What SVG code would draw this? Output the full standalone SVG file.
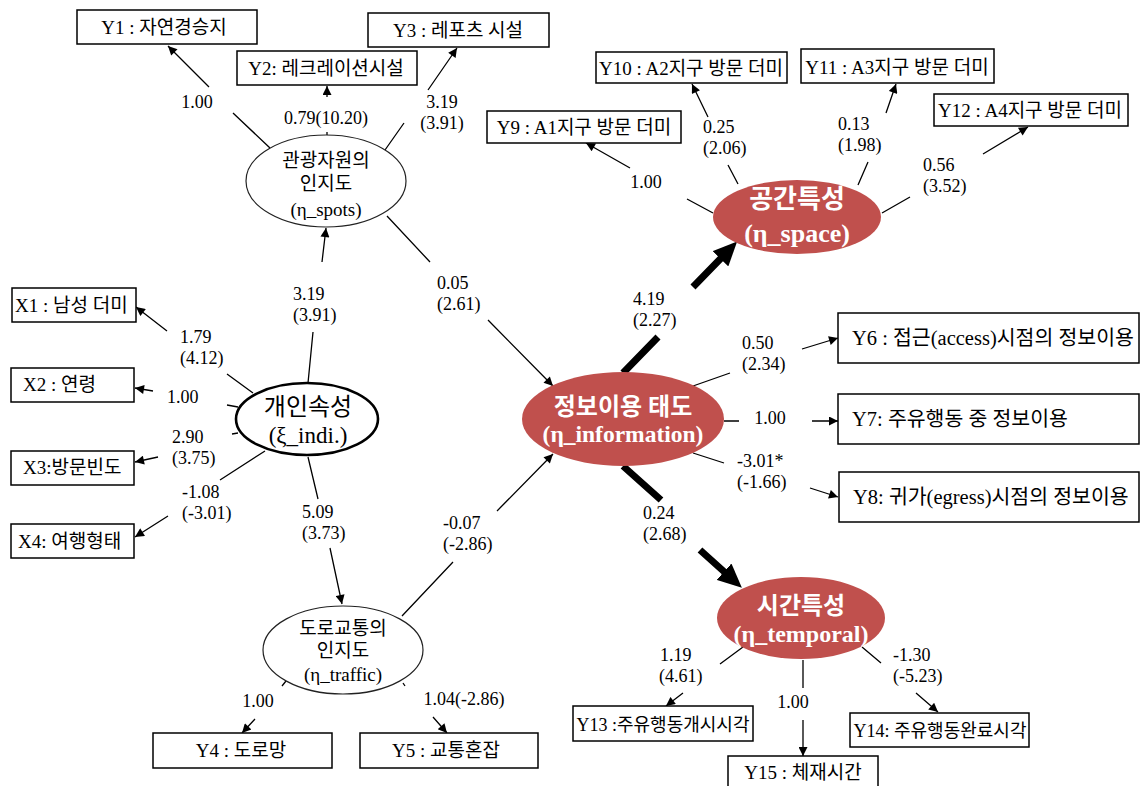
<svg xmlns="http://www.w3.org/2000/svg" width="1141" height="786" viewBox="0 0 1141 786">
<style>
.bx{fill:#fff;stroke:#000;stroke-width:1.5}
.bt{font-family:"Liberation Serif","Noto Sans CJK KR",serif;font-size:19px;fill:#000}
.bs{font-size:18px}
.bt2{font-family:"Liberation Serif","Noto Sans CJK KR",serif;font-size:20.5px;fill:#000}
.lb{font-family:"Liberation Serif","Noto Sans CJK KR",serif;font-size:18px;fill:#000}
.m{text-anchor:middle}
.el{fill:#fff;stroke:#222;stroke-width:1.2}
.elx{fill:#fff;stroke:#000;stroke-width:2.6}
.er{fill:#C0504D;stroke:none}
.et{font-family:"Liberation Serif","Noto Sans CJK KR",serif;font-size:19px;fill:#000;text-anchor:middle}
.wt{font-family:"Liberation Serif","Noto Sans CJK KR",serif;font-weight:bold;fill:#fff;text-anchor:middle}
.c{fill:none;stroke:#000;stroke-width:1.3}
.ct{fill:none;stroke:#000;stroke-width:7}
</style>
<defs>
<marker id="a" viewBox="0 0 10 10" refX="10" refY="5" markerWidth="11" markerHeight="9" markerUnits="userSpaceOnUse" orient="auto"><path d="M0,0 L10,5 L0,10 z" fill="#000"/></marker>
<marker id="A" viewBox="0 0 24 22" refX="8" refY="11" markerWidth="24" markerHeight="22" markerUnits="userSpaceOnUse" orient="auto"><path d="M0,0 L24,11 L0,22 z" fill="#000"/></marker>
</defs>

<g id="connectors">
<path class="c" d="M270,148 L233,113 M209,87 L168,46" marker-end="url(#a)"/>
<path class="c" d="M327,136 L327,132 M327,97 L327,86" marker-end="url(#a)"/>
<path class="c" d="M385,150 L404,123 M428,90 L457,48" marker-end="url(#a)"/>
<path class="c" d="M308,383 L313,332 M322,262 L326,228" marker-end="url(#a)"/>
<path class="c" d="M387,216 L430,262 M488,320 L553,386" marker-end="url(#a)"/>
<path class="c" d="M308,457 L318,499 M330,548 L342,604" marker-end="url(#a)"/>
<path class="c" d="M402,616 L453,562 M497,511 L553,454" marker-end="url(#a)"/>
<path class="c" d="M253,393 L227,374 M167,331 L136,307" marker-end="url(#a)"/>
<path class="c" d="M238,407 L227,405 M153,391 L135,388" marker-end="url(#a)"/>
<path class="c" d="M238,433 L232,434 M158,457 L135,462" marker-end="url(#a)"/>
<path class="c" d="M265,451 L220,480 M168,516 L135,537" marker-end="url(#a)"/>
<path class="c" d="M286,681 L282,686 M255,719 L242,733" marker-end="url(#a)"/>
<path class="c" d="M403,683 L405,686 M433,717 L447,733" marker-end="url(#a)"/>
<path class="ct" d="M623,373 L658,337 M693,287 L726,253" marker-end="url(#A)"/>
<path class="ct" d="M623,466 L661,500 M700,550 L730,577" marker-end="url(#A)"/>
<path class="c" d="M693,386 L730,373 M802,349 L838,338" marker-end="url(#a)"/>
<path class="c" d="M724,421 L739,421 M812,421 L838,421" marker-end="url(#a)"/>
<path class="c" d="M693,453 L724,463 M810,488 L838,497" marker-end="url(#a)"/>
<path class="c" d="M713,213 L687,199 M630,168 L586,143" marker-end="url(#a)"/>
<path class="c" d="M738,184 L728,165 M708,117 L692,84" marker-end="url(#a)"/>
<path class="c" d="M858,185 L868,162 M886,113 L896,84" marker-end="url(#a)"/>
<path class="c" d="M882,213 L910,197 M983,154 L1028,127" marker-end="url(#a)"/>
<path class="c" d="M743,647 L720,664 M683,693 L666,706" marker-end="url(#a)"/>
<path class="c" d="M803,660 L803,688 M803,720 L803,756" marker-end="url(#a)"/>
<path class="c" d="M862,647 L881,663 M916,693 L938,712" marker-end="url(#a)"/>
</g>

<g id="edge-labels">
<text class="lb m" x="197" y="108">1.00</text>
<text class="lb m" x="326" y="124">0.79(10.20)</text>
<text class="lb m" x="442" y="108">3.19</text>
<text class="lb m" x="442" y="129">(3.91)</text>
<text class="lb" x="180" y="343">1.79</text>
<text class="lb" x="180" y="364">(4.12)</text>
<text class="lb" x="167" y="403">1.00</text>
<text class="lb" x="172" y="443">2.90</text>
<text class="lb" x="172" y="464">(3.75)</text>
<text class="lb" x="182" y="498">-1.08</text>
<text class="lb" x="182" y="519">(-3.01)</text>
<text class="lb" x="293" y="300">3.19</text>
<text class="lb" x="293" y="321">(3.91)</text>
<text class="lb" x="437" y="289">0.05</text>
<text class="lb" x="437" y="310">(2.61)</text>
<text class="lb" x="302" y="518">5.09</text>
<text class="lb" x="302" y="539">(3.73)</text>
<text class="lb" x="443" y="529">-0.07</text>
<text class="lb" x="443" y="550">(-2.86)</text>
<text class="lb m" x="258" y="707">1.00</text>
<text class="lb m" x="464" y="705">1.04(-2.86)</text>
<text class="lb" x="633" y="305">4.19</text>
<text class="lb" x="633" y="326">(2.27)</text>
<text class="lb" x="643" y="519">0.24</text>
<text class="lb" x="643" y="540">(2.68)</text>
<text class="lb" x="742" y="349">0.50</text>
<text class="lb" x="742" y="370">(2.34)</text>
<text class="lb m" x="770" y="424">1.00</text>
<text class="lb" x="737" y="467">-3.01*</text>
<text class="lb" x="737" y="488">(-1.66)</text>
<text class="lb m" x="646" y="188">1.00</text>
<text class="lb" x="703" y="133">0.25</text>
<text class="lb" x="703" y="154">(2.06)</text>
<text class="lb" x="838" y="130">0.13</text>
<text class="lb" x="838" y="151">(1.98)</text>
<text class="lb" x="923" y="171">0.56</text>
<text class="lb" x="923" y="192">(3.52)</text>
<text class="lb" x="660" y="661">1.19</text>
<text class="lb" x="659" y="682">(4.61)</text>
<text class="lb m" x="793" y="708">1.00</text>
<text class="lb" x="893" y="661">-1.30</text>
<text class="lb" x="893" y="682">(-5.23)</text>
</g>

<g id="Y1"><rect class="bx" x="77" y="10" width="180" height="34"/><text class="bt m" x="164" y="34">Y1 : 자연경승지</text></g>
<g id="Y2"><rect class="bx" x="237" y="51" width="180" height="34"/><text class="bt m" x="326" y="75">Y2: 레크레이션시설</text></g>
<g id="Y3"><rect class="bx" x="368" y="13" width="181" height="34"/><text class="bt m" x="458" y="37">Y3 : 레포츠 시설</text></g>
<g id="Y9"><rect class="bx" x="487" y="111" width="194" height="32"/><text class="bt m" x="584" y="134">Y9 : A1지구 방문 더미</text></g>
<g id="Y10"><rect class="bx" x="596" y="52" width="191" height="31"/><text class="bt m" x="691" y="75">Y10 : A2지구 방문 더미</text></g>
<g id="Y11"><rect class="bx" x="801" y="49" width="193" height="34"/><text class="bt m" x="897" y="74">Y11 : A3지구 방문 더미</text></g>
<g id="Y12"><rect class="bx" x="934" y="94" width="194" height="32"/><text class="bt m" x="1030" y="117">Y12 : A4지구 방문 더미</text></g>
<g id="X1"><rect class="bx" x="12" y="288" width="124" height="34"/><text class="bt" x="15" y="312">X1 : 남성 더미</text></g>
<g id="X2"><rect class="bx" x="11" y="368" width="123" height="34"/><text class="bt" x="23" y="391">X2 : 연령</text></g>
<g id="X3"><rect class="bx" x="11" y="451" width="123" height="34"/><text class="bt" x="23" y="474">X3:방문빈도</text></g>
<g id="X4"><rect class="bx" x="11" y="524" width="123" height="34"/><text class="bt" x="18" y="548">X4: 여행형태</text></g>
<g id="Y4"><rect class="bx" x="153" y="733" width="179" height="35"/><text class="bt m" x="241" y="757">Y4 : 도로망</text></g>
<g id="Y5"><rect class="bx" x="360" y="733" width="178" height="35"/><text class="bt m" x="446" y="757">Y5 : 교통혼잡</text></g>
<g id="Y6"><rect class="bx" x="838" y="313" width="301" height="50"/><text class="bt2" x="852" y="345">Y6 : 접근(access)시점의 정보이용</text></g>
<g id="Y7"><rect class="bx" x="838" y="394" width="301" height="50"/><text class="bt2" x="852" y="426">Y7: 주유행동 중 정보이용</text></g>
<g id="Y8"><rect class="bx" x="839" y="472" width="300" height="50"/><text class="bt2" x="853" y="504">Y8: 귀가(egress)시점의 정보이용</text></g>
<g id="Y13"><rect class="bx" x="573" y="706" width="180" height="35"/><text class="bt bs m" x="663" y="731">Y13 :주유행동개시시각</text></g>
<g id="Y14"><rect class="bx" x="850" y="713" width="179" height="34"/><text class="bt bs m" x="940" y="737">Y14: 주유행동완료시각</text></g>
<g id="Y15"><rect class="bx" x="728" y="756" width="150" height="36"/><text class="bt m" x="803" y="779">Y15 : 체재시간</text></g>

<g id="eta_spots"><ellipse class="el" cx="326" cy="181" rx="80" ry="46"/>
<text class="et" x="326" y="167">관광자원의</text><text class="et" x="326" y="190">인지도</text><text class="et" x="326" y="216">(η_spots)</text></g>
<g id="eta_traffic"><ellipse class="el" cx="343" cy="650" rx="80" ry="44"/>
<text class="et" x="343" y="635">도로교통의</text><text class="et" x="343" y="657">인지도</text><text class="et" x="343" y="681">(η_traffic)</text></g>
<g id="xi_indi"><ellipse class="elx" cx="307" cy="419" rx="71" ry="36"/>
<text class="et" x="308" y="415" style="font-size:24px">개인속성</text><text class="et" x="308" y="443" style="font-size:23px">(ξ_indi.)</text></g>
<g id="eta_information"><ellipse class="er" cx="623" cy="419" rx="101" ry="47"/>
<text class="wt" x="623" y="415" style="font-size:24px">정보이용 태도</text><text class="wt" x="623" y="442" style="font-size:23.5px">(η_information)</text></g>
<g id="eta_space"><ellipse class="er" cx="797" cy="217" rx="84" ry="37"/>
<text class="wt" x="797" y="208" style="font-size:26px">공간특성</text><text class="wt" x="797" y="242" style="font-size:26px">(η_space)</text></g>
<g id="eta_temporal"><ellipse class="er" cx="801" cy="618" rx="84" ry="41"/>
<text class="wt" x="801" y="614" style="font-size:24px">시간특성</text><text class="wt" x="801" y="642" style="font-size:24px">(η_temporal)</text></g>
</svg>
